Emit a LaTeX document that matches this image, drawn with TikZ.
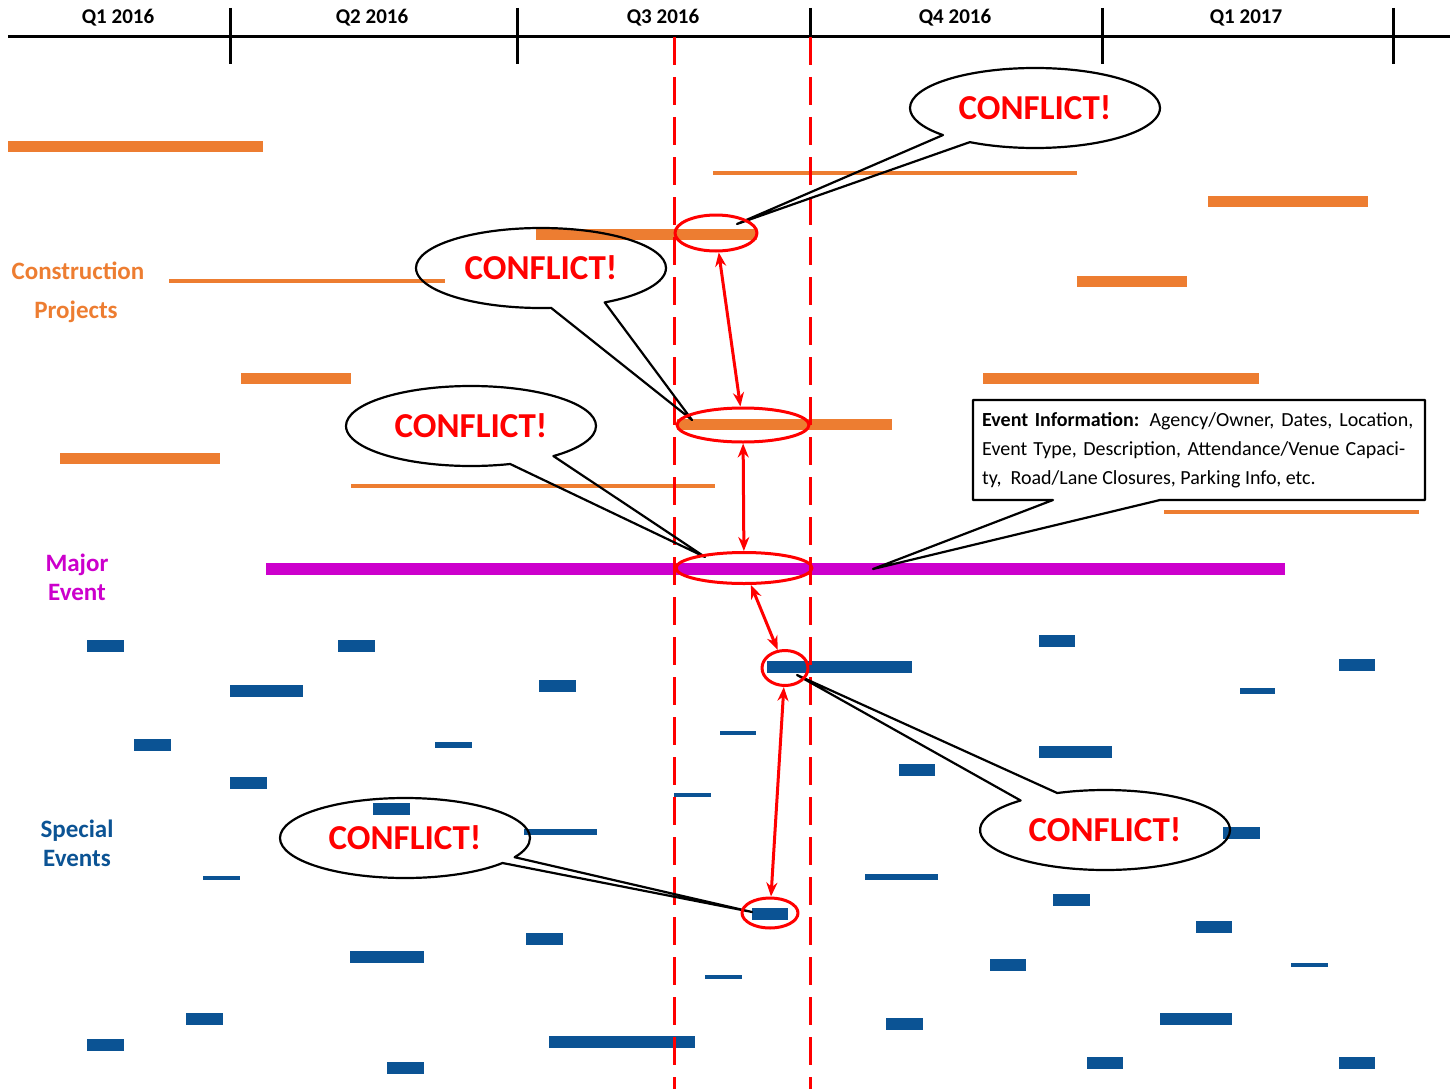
\documentclass[tikz,border=0pt]{standalone}
\usepackage{fontspec}
\setmainfont{Carlito}
\usetikzlibrary{shapes.geometric,shapes.callouts,arrows.meta}
\definecolor{orangebar}{HTML}{ED7D31}
\definecolor{bluebar}{HTML}{0B5394}
\definecolor{purplebar}{HTML}{CC00CC}
\begin{document}
\begin{tikzpicture}[x=1pt, y=-1pt, line join=round, >={Stealth[length=14pt,width=11pt]},
  qlabel/.style={font=\bfseries\fontsize{21}{24}\selectfont},
  grouplabel/.style={font=\bfseries\fontsize{25}{29}\selectfont, align=center},
  clashring/.style={ellipse, draw=red, line width=3pt, inner sep=0pt},
  clashlink/.style={<->, red, line width=3pt},
  qwindow/.style={red, line width=3pt, dash pattern=on 28pt off 12pt},
  conflict/.style={ellipse callout, draw, line width=2.2pt, inner sep=0pt,
    minimum width=250pt, minimum height=80pt, text=red,
    font=\bfseries\fontsize{35}{40}\selectfont}]
\useasboundingbox (0,0) rectangle (1450,1089);
% timeline
\draw[line width=3pt] (8,37) -- (1450,37);
\foreach \x in {230,517,810,1102,1393} \draw[line width=3pt] (\x,8) -- (\x,64);
\node[qlabel] (q1) at (118,18) {Q1 2016};
\node[qlabel] (q2) at (372,18) {Q2 2016};
\node[qlabel] (q3) at (663,18) {Q3 2016};
\node[qlabel] (q4) at (955,18) {Q4 2016};
\node[qlabel] (q5) at (1246,18) {Q1 2017};
% group labels
\node[grouplabel, orangebar] (cons) at (78,271) {Construction};
\node[grouplabel, orangebar] (proj) at (76,312) {Projects};
\node[grouplabel, purplebar] (major) at (77,577) {Major\\Event};
\node[grouplabel, bluebar] (special) at (77,843) {Special\\Events};
% construction projects
\foreach \a/\b/\y in {8/263/146, 1208/1368/201, 536/757/234, 1077/1187/281, 241/351/378,
  983/1259/378, 677/892/424, 60/220/458}
  \draw[orangebar, line width=11pt] (\a,\y) -- (\b,\y);
\foreach \a/\b/\y in {713/1077/173, 169/445/281, 351/715/486, 1164/1419/512}
  \draw[orangebar, line width=4.5pt] (\a,\y) -- (\b,\y);
% major event
\draw[purplebar, line width=12pt] (266,569) -- (1285,569);
% special events
\foreach \a/\b/\y in {87/124/646, 338/375/646, 230/303/691, 539/576/686, 134/171/745,
  230/267/783, 373/410/809, 767/912/667, 1039/1075/641, 1339/1375/665, 1039/1112/752,
  899/935/770, 1223/1260/833, 526/563/939, 350/424/957, 186/223/1019, 87/124/1045,
  549/695/1042, 387/424/1068, 752/788/914, 1053/1090/900, 1196/1232/927, 990/1026/965,
  886/923/1024, 1160/1232/1019, 1087/1123/1063, 1339/1375/1063}
  \draw[bluebar, line width=12pt] (\a,\y) -- (\b,\y);
\foreach \a/\b/\y in {435/472/745, 524/597/832, 1240/1275/691, 865/938/877}
  \draw[bluebar, line width=6pt] (\a,\y) -- (\b,\y);
\foreach \a/\b/\y in {674/711/795, 720/756/733, 203/240/878, 705/742/977, 1291/1328/965}
  \draw[bluebar, line width=4pt] (\a,\y) -- (\b,\y);
% Q3 window
\draw[qwindow] (674,37) -- (674,1089);
\draw[qwindow] (810,37) -- (810,1089);
% callouts
\coordinate (t1) at (737,224);
\coordinate (t2) at (692,420);
\coordinate (t3) at (705,557);
\coordinate (t4) at (752,912);
\coordinate (t5) at (797,675);
\coordinate (t6) at (873,569);
\node[conflict, callout absolute pointer={(t1)}, callout pointer arc=16] (c1) at (1035,108) {CONFLICT!};
\node[conflict, callout absolute pointer={(t2)}, callout pointer arc=26] (c2) at (541,268) {CONFLICT!};
\node[conflict, callout absolute pointer={(t3)}, callout pointer arc=23] (c3) at (471,426) {CONFLICT!};
\node[conflict, callout absolute pointer={(t4)}, callout pointer arc=10] (c4) at (405,838) {CONFLICT!};
\node[conflict, callout absolute pointer={(t5)}, callout pointer arc=20] (c5) at (1105,830) {CONFLICT!};
\draw[line width=2.2pt, fill=white] (973,400) -- (1425,400) -- (1425,500) -- (1160,500) -- (t6)
  -- (1053,500) -- (973,500) -- cycle;
\node[anchor=west, inner sep=0pt, align=left, font=\fontsize{20}{29}\selectfont] (info) at (982,450)
  {\makebox[431pt][s]{\textbf{Event Information:} Agency/Owner, Dates, Location,}\\
   \makebox[423pt][s]{Event Type, Description, Attendance/Venue Capaci-}\\
   ty,~ Road/Lane Closures, Parking Info, etc.};
% conflicts
\node[clashring, minimum width=82pt, minimum height=36pt] (r1) at (716,233) {};
\node[clashring, minimum width=132pt, minimum height=34pt] (r2) at (743,425) {};
\node[clashring, minimum width=136pt, minimum height=31pt] (r3) at (744,568) {};
\node[clashring, minimum width=46pt, minimum height=35pt] (r4) at (785,668) {};
\node[clashring, minimum width=56pt, minimum height=30pt] (r5) at (770,913) {};
\draw[clashlink] (r1) -- (r2);
\draw[clashlink] (r2) -- (r3);
\draw[clashlink] (r3) -- (r4);
\draw[clashlink] (r4) -- (r5);
\end{tikzpicture}
\end{document}
